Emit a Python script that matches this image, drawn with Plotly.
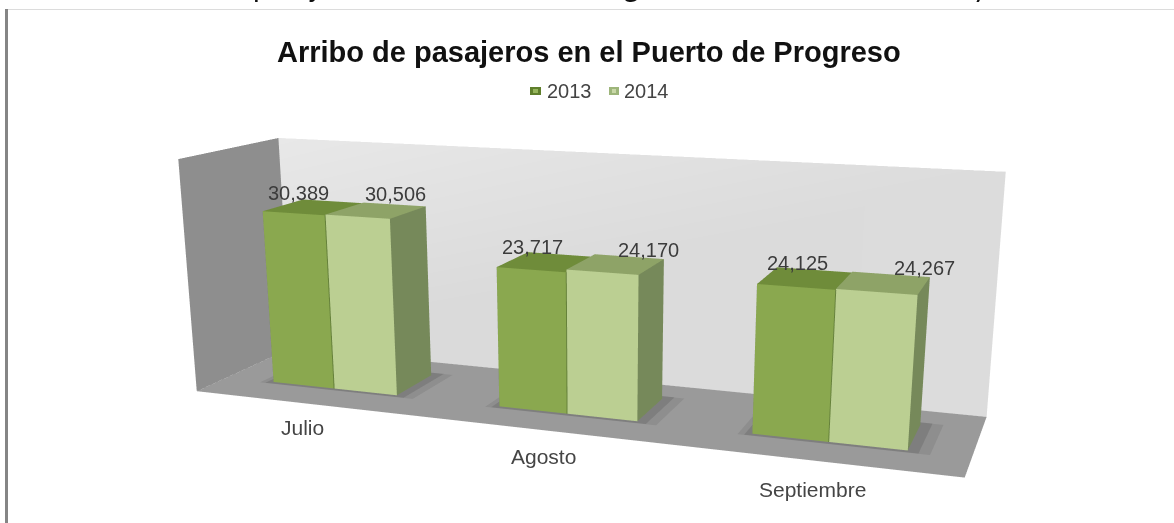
import numpy as np
import plotly.graph_objects as go

categories = ["Julio", "Agosto", "Septiembre"]
y2013 = [30389, 23717, 24125]
y2014 = [30506, 24170, 24267]
labels2013 = ["30,389", "23,717", "24,125"]
labels2014 = ["30,506", "24,170", "24,267"]
series_names = ["2013", "2014"]
title_text = "Arribo de pasajeros en el Puerto de Progreso"
caption_text = "de pasajeros en el Puerto de Progreso en los meses de Julio y"

ZMAX = 40000
WIDTH, DEPTH, HEIGHT = 1.6, 0.192, 0.485     # scene size of the chart box
SHEAR_X_Y, SHEAR_X_Z, SHEAR_Y_Z = 0.109, -0.028, 0.165   # oblique 3D look
HALF = 0.28          # half a cluster along the category axis
FRONT, BACK = 0.30, 0.73

LIGHT = dict(ambient=1, diffuse=0, specular=0, fresnel=0)
C13 = ("#8aa84f", "#6f8c3a", "#76895a")
C14 = ("#bbcf92", "#8ea367", "#76895a")


def oblique(x, y, z):
    u = np.array(x, float) / 3
    v = np.array(y, float)
    w = np.array(z, float) / ZMAX
    xs = (u - .5) * WIDTH + SHEAR_X_Y * (v - .5) + SHEAR_X_Z * (w - .5)
    ys = (v - .5) * DEPTH + SHEAR_Y_Z * (w - .5)
    return xs.tolist(), ys.tolist()


def quad(X, Y, Z, col=None, vcols=None):
    xs, ys = oblique(X, Y, Z)
    kw = dict(vertexcolor=vcols) if vcols else dict(color=col)
    return go.Mesh3d(x=xs, y=ys, z=Z, i=[0, 0], j=[1, 2], k=[2, 3], lighting=LIGHT,
                     hoverinfo="skip", showlegend=False, **kw)


def box(x0, x1, z1, colors):
    y0, y1 = FRONT, BACK
    X = [x0, x1, x1, x0, x0, x1, x1, x0]
    Y = [y0, y0, y1, y1, y0, y0, y1, y1]
    Z = [0, 0, 0, 0, z1, z1, z1, z1]
    I = [0, 0, 4, 4, 0, 0, 1, 1, 2, 2, 3, 3]
    J = [1, 2, 5, 6, 1, 5, 2, 6, 3, 7, 0, 4]
    K = [2, 3, 6, 7, 5, 4, 6, 5, 7, 6, 4, 7]
    top, front, side = colors[1], colors[0], colors[2]
    fc = [side, side, top, top, front, front, side, side, side, side, side, side]
    xs, ys = oblique(X, Y, Z)
    return go.Mesh3d(x=xs, y=ys, z=Z, i=I, j=J, k=K, facecolor=fc, flatshading=True,
                     lighting=LIGHT, hoverinfo="skip", showlegend=False)


fig = go.Figure()
fig.add_trace(quad([0, 3, 3, 0], [0, 0, 1, 1], [0, 0, 0, 0], "#9a9a9a"))
fig.add_trace(quad([0, 3, 3, 0], [1, 1, 1, 1], [0, 0, ZMAX, ZMAX],
                   vcols=["#d9d9d9", "#dcdcdc", "#dcdcdc", "#e8e8e8"]))
fig.add_trace(quad([0, 0, 0, 0], [0, 1, 1, 0], [0, 0, ZMAX, ZMAX], "#8e8e8e"))

scene_ann = []
centers = [0.5, 1.5, 2.5]
cat_shift = [(-4, -24), (-3, -26), (-4, -29)]
lab13_shift = [(-35, -5), (-29, -5), (-17, -6)]
lab14_shift = [(1, -3), (19, -6), (34, -7)]
for i, c in enumerate(centers):
    # soft shadow round the foot of the cluster
    for grow, z_s, col in ((0.05, 30, "#8e8e8e"), (0.025, 60, "#7e7e7e")):
        x0, x1 = c - HALF - grow, c + HALF + grow * 1.6
        y0, y1 = FRONT - 0.03, BACK + 0.05
        fig.add_trace(quad([x0, x1, x1, x0], [y0, y0, y1, y1], [z_s] * 4, col))
    fig.add_trace(box(c - HALF, c, y2013[i], C13))
    fig.add_trace(box(c, c + HALF, y2014[i], C14))
    lx, ly = oblique([c, c], [FRONT - .002, FRONT - .002], [0, min(y2013[i], y2014[i])])
    fig.add_trace(go.Scatter3d(x=lx, y=ly, z=[0, min(y2013[i], y2014[i])], mode="lines",
                               line=dict(color="#66823a", width=2), hoverinfo="skip", showlegend=False))
    for uc, val, txt, sh in ((c - HALF / 2, y2013[i], labels2013[i], lab13_shift[i]),
                             (c + HALF / 2, y2014[i], labels2014[i], lab14_shift[i])):
        ax, ay = oblique([uc], [BACK], [val])
        scene_ann.append(dict(x=ax[0], y=ay[0], z=val, text=txt, showarrow=False,
                              xanchor="center", yanchor="bottom", xshift=sh[0], yshift=sh[1],
                              font=dict(family="Liberation Sans", size=20, color="#3c3c3c")))
    ax, ay = oblique([c], [0], [0])
    scene_ann.append(dict(x=ax[0], y=ay[0], z=0, text=categories[i], showarrow=False,
                          xanchor="center", yanchor="middle", xshift=cat_shift[i][0], yshift=cat_shift[i][1],
                          font=dict(family="Liberation Sans", size=21, color="#454545")))

PW, PH = 1174, 523


def px(x): return x / PW
def py(y): return 1 - y / PH


shapes = [
    dict(type="rect", xref="paper", yref="paper", x0=px(5), x1=px(1174), y0=py(10), y1=py(9),
         fillcolor="#dcdcdc", line=dict(width=0)),
    dict(type="rect", xref="paper", yref="paper", x0=px(5), x1=px(8), y0=py(523), y1=py(9),
         fillcolor="#858585", line=dict(width=0)),
]
legend_x = [(530, 541), (609, 619)]
legend_cols = [("#5f7f2c", "#96b65c"), ("#9db57a", "#c9d8a8")]
for (a, b), (outer, inner) in zip(legend_x, legend_cols):
    shapes.append(dict(type="rect", xref="paper", yref="paper", x0=px(a), x1=px(b), y0=py(95), y1=py(87),
                       fillcolor=outer, line=dict(width=0)))
    shapes.append(dict(type="rect", xref="paper", yref="paper", x0=px(a + 3), x1=px(b - 3), y0=py(93), y1=py(89),
                       fillcolor=inner, line=dict(width=0)))

annotations = [
    dict(text=caption_text, x=px(601), y=py(5), xref="paper", yref="paper", showarrow=False,
         xanchor="center", yanchor="bottom", font=dict(family="Lato", size=29, color="#111111")),
    dict(text="<b>" + title_text + "</b>", x=px(589), y=py(52), xref="paper", yref="paper", showarrow=False,
         xanchor="center", yanchor="middle", font=dict(family="Liberation Sans", size=29, color="#111111")),
    dict(text=series_names[0], x=px(569), y=py(91), xref="paper", yref="paper", showarrow=False,
         xanchor="center", yanchor="middle", font=dict(family="Liberation Sans", size=20, color="#444444")),
    dict(text=series_names[1], x=px(646), y=py(91), xref="paper", yref="paper", showarrow=False,
         xanchor="center", yanchor="middle", font=dict(family="Liberation Sans", size=20, color="#444444")),
]

fig.update_layout(
    width=PW, height=PH, margin=dict(l=0, r=0, t=0, b=0), paper_bgcolor="white", showlegend=False,
    shapes=shapes, annotations=annotations,
    scene=dict(domain=dict(x=[0, 1], y=[0, 1]), aspectmode="manual", aspectratio=dict(x=4, y=4, z=HEIGHT),
               bgcolor="rgba(0,0,0,0)",
               xaxis=dict(visible=False, range=[-2, 2]), yaxis=dict(visible=False, range=[-2, 2]),
               zaxis=dict(visible=False, range=[0, ZMAX]),
               annotations=scene_ann,
               camera=dict(eye=dict(x=0.206, y=-1.164, z=0.638), center=dict(x=0.015, y=0, z=0.062),
                           up=dict(x=0, y=0, z=1))))
fig.write_html("out.html", config=dict(displayModeBar=False),
               post_script="document.body.style.margin='0';document.documentElement.style.overflow='hidden';")
